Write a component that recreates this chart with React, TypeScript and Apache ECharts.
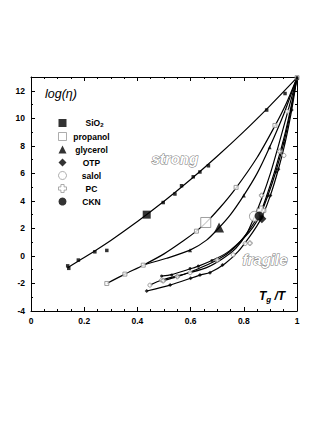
import React, { useEffect, useRef } from "react";
import * as echarts from "echarts";

// x = Tg/T, y = log(eta)
const sio2Curve = [[0.138,-0.85],[0.2,-0.12],[0.3,1.13],[0.4,2.5],[0.5,3.97],[0.6,5.55],[0.7,7.24],[0.8,9.03],[0.9,10.94],[1,12.95]];
const sio2Points = [[0.138,-0.72],[0.142,-0.9],[0.178,-0.3],[0.24,0.3],[0.285,0.4],[0.497,3.88],[0.541,4.5],[0.566,5.1],[0.61,5.75],[0.635,6.1],[0.667,6.55],[0.886,10.6],[0.955,11.8],[1,12.95]];
const sio2Big = [0.435, 3.0];

const propanolCurve = [[0.285,-2.0],[0.353,-1.32],[0.422,-0.67],[0.5,0.15],[0.573,1.1],[0.623,1.82],[0.657,2.4],[0.71,3.5],[0.771,4.95],[0.85,7.15],[0.917,9.45],[0.96,11.1],[1,12.95]];
const propanolPoints = [[0.285,-2.0],[0.353,-1.32],[0.422,-0.67],[0.622,1.8],[0.771,4.98],[0.917,9.48],[1,12.95]];
const propanolBig = [0.657, 2.43];

const glycerolCurve = [[0.425,-0.64],[0.51,-0.17],[0.598,0.42],[0.66,1.15],[0.707,2.05],[0.75,3.0],[0.8,4.4],[0.85,6.0],[0.897,7.9],[0.95,10.3],[1,12.95]];
const glycerolPoints = [[0.598,0.42],[0.8,4.4],[0.897,7.9],[1,12.95]];
const glycerolBig = [0.707, 2.07];

const otpCurve = [[0.435,-2.55],[0.523,-2.12],[0.635,-1.39],[0.673,-1.2],[0.73,-0.55],[0.78,0.35],[0.82,1.35],[0.85,2.2],[0.87,2.9],[0.9,4.4],[0.93,6.3],[0.955,8.2],[0.98,10.6],[1,12.95]];
const otpPoints = [[0.435,-2.55],[0.523,-2.12],[0.6,-1.62],[0.635,-1.39],[0.673,-1.22],[0.72,-0.65],[0.9,4.4],[0.93,6.3],[0.98,10.6]];
const otpBig = [0.868, 2.7];

const salolCurve = [[0.447,-2.12],[0.491,-1.75],[0.6,-1.2],[0.66,-0.85],[0.72,-0.2],[0.77,0.55],[0.81,1.6],[0.84,2.85],[0.87,4.3],[0.9,6.0],[0.93,8.0],[0.96,10.1],[1,12.95]];
const salolPoints = [[0.447,-2.12],[0.491,-1.75],[0.598,-1.22],[0.76,0.08],[0.805,0.9],[0.951,7.3],[0.964,10.5]];
const salolBig = [0.84, 2.88];

const pcCurve = [[0.497,-1.8],[0.55,-1.5],[0.62,-1.0],[0.7,-0.3],[0.76,0.5],[0.81,1.6],[0.84,2.45],[0.865,3.25],[0.89,4.6],[0.92,6.4],[0.95,8.5],[0.975,10.6],[1,12.95]];
const pcPoints = [[0.497,-1.8],[0.55,-1.5],[0.7,-0.3],[0.823,0.93],[0.867,4.4],[0.935,7.6]];
const pcBig = [0.866, 3.3];

const cknCurve = [[0.491,-1.46],[0.529,-1.36],[0.6,-0.93],[0.63,-0.74],[0.7,-0.15],[0.745,0.35],[0.8,1.3],[0.835,2.1],[0.862,3.0],[0.89,4.35],[0.92,6.1],[0.95,8.2],[0.975,10.4],[1,12.95]];
const cknPoints = [[0.491,-1.46],[0.529,-1.38],[0.598,-0.91],[0.629,-0.74],[0.68,-0.33],[0.89,4.35],[0.92,6.1],[0.95,8.2],[1,12.95]];
const cknBig = [0.858, 2.9];

const crossPath = "path://M3,0H7V3H10V7H7V10H3V7H0V3H3Z";

const FONT = '"Liberation Sans", Arial, sans-serif';

function fit(name: string, data: number[][]) {
  return {
    type: "line",
    name: name + " fit",
    data,
    smooth: 0.25,
    showSymbol: false,
    symbol: "none",
    lineStyle: { color: "#000", width: 1.2 },
    z: 2,
    silent: true,
  };
}

function pts(name: string, data: number[][], big: number[], symbol: string, filled: boolean, size: number, bigSize: number) {
  return {
    type: "scatter",
    name,
    symbol,
    symbolSize: size,
    data: [...data.map((d) => ({ value: d })), { value: big, symbolSize: bigSize }],
    itemStyle: filled
      ? { color: "#000" }
      : { color: "#fff", borderColor: "#888", borderWidth: 1 },
    z: 4,
    silent: true,
  };
}

export default function App() {
  const ref = useRef<HTMLDivElement>(null);
  useEffect(() => {
    const chart = echarts.init(ref.current!, null, { renderer: "svg" });
    const tickCommon = {
      axisLine: { show: true, onZero: false, lineStyle: { color: "#000", width: 1 } },
      axisTick: { show: true, inside: true, length: 4, lineStyle: { color: "#000", width: 1 } },
      splitLine: { show: false },
    };
    const labelStyle = { fontSize: 8.5, fontWeight: "bold", color: "#000", fontFamily: FONT };
    const option: any = {
      animation: false,
      backgroundColor: "#fff",
      grid: { left: 31, right: 30, top: 77, bottom: 112 },
      xAxis: [
        {
          type: "value", position: "bottom", min: 0, max: 1, interval: 0.2,
          ...tickCommon,
          minorTick: { show: true, splitNumber: 4, length: 2, lineStyle: { color: "#000" } },
          axisLabel: { ...labelStyle, margin: 5 },
        },
        {
          type: "value", position: "top", min: 0, max: 1, interval: 0.2,
          ...tickCommon,
          minorTick: { show: true, splitNumber: 4, length: 2, lineStyle: { color: "#000" } },
          axisLabel: { show: false },
        },
      ],
      yAxis: [
        {
          type: "value", position: "left", min: -4, max: 13, interval: 2,
          ...tickCommon,
          minorTick: { show: true, splitNumber: 2, length: 2, lineStyle: { color: "#000" } },
          axisLabel: { ...labelStyle, margin: 6, showMaxLabel: false },
        },
        {
          type: "value", position: "right", min: -4, max: 13, interval: 2,
          ...tickCommon,
          minorTick: { show: true, splitNumber: 2, length: 2, lineStyle: { color: "#000" } },
          axisLabel: { show: false },
        },
      ],
      legend: {
        orient: "vertical",
        left: 53,
        top: 113,
        itemWidth: 8,
        itemHeight: 8,
        itemGap: 4,
        selectedMode: false,
        data: [
          { name: "SiO2", icon: "rect", itemStyle: { color: "#000", borderWidth: 0 } },
          { name: "propanol", icon: "rect", itemStyle: { color: "#fff", borderColor: "#999", borderWidth: 1 } },
          { name: "glycerol", icon: "triangle", itemStyle: { color: "#000", borderWidth: 0 } },
          { name: "OTP", icon: "diamond", itemStyle: { color: "#000", borderWidth: 0 } },
          { name: "salol", icon: "circle", itemStyle: { color: "#fff", borderColor: "#999", borderWidth: 1 } },
          { name: "PC", icon: crossPath, itemStyle: { color: "#fff", borderColor: "#999", borderWidth: 1 } },
          { name: "CKN", icon: "circle", itemStyle: { color: "#000", borderWidth: 0 } },
        ],
        formatter: (name: string) => (name === "SiO2" ? "{a|SiO}{s|2}" : "{c|" + name + "}"),
        textStyle: {
          fontSize: 8.5,
          fontWeight: "bold",
          color: "#000",
          fontFamily: FONT,
          rich: {
            c: { width: 40, align: "center", fontSize: 8.5, fontWeight: "bold", fontFamily: FONT, lineHeight: 10, color: "#000" },
            a: { fontSize: 8.5, fontWeight: "bold", fontFamily: FONT, lineHeight: 10, padding: [0, 0, 0, 14], color: "#000" },
            s: { fontSize: 6, fontWeight: "bold", fontFamily: FONT, lineHeight: 10, verticalAlign: "bottom", padding: [4, 0, 0, 0], color: "#000" },
          },
        },
      },
      graphic: [
        { type: "text", left: 45, top: 87, style: { text: "log(η)", fontSize: 12.5, fontStyle: "italic", fontFamily: FONT, fill: "#000" } },
        { type: "text", left: 151, top: 150, style: { text: "strong", fontSize: 15, fontStyle: "italic", fontWeight: "bold", fontFamily: FONT, fill: "#fff", stroke: "#777", lineWidth: 1 } },
        { type: "text", left: 242, top: 251, style: { text: "fragile", fontSize: 15, fontStyle: "italic", fontWeight: "bold", fontFamily: FONT, fill: "#fff", stroke: "#777", lineWidth: 1 } },
        {
          type: "text", left: 259, top: 290,
          style: {
            text: "{t|T}{g|g}{t| /T}",
            rich: {
              t: { fontSize: 12, fontStyle: "italic", fontWeight: "bold", fontFamily: FONT, fill: "#000", lineHeight: 14 },
              g: { fontSize: 8, fontStyle: "italic", fontWeight: "bold", fontFamily: FONT, fill: "#000", lineHeight: 14, verticalAlign: "bottom", padding: [5, 0, 0, 0] },
            },
          },
        },
      ],
      series: [
        fit("SiO2", sio2Curve),
        fit("propanol", propanolCurve),
        fit("glycerol", glycerolCurve),
        fit("OTP", otpCurve),
        fit("salol", salolCurve),
        fit("PC", pcCurve),
        fit("CKN", cknCurve),
        pts("SiO2", sio2Points, sio2Big, "rect", true, 3.5, 8),
        pts("propanol", propanolPoints, propanolBig, "rect", false, 4, 10),
        pts("glycerol", glycerolPoints, glycerolBig, "triangle", true, 4, 10),
        pts("OTP", otpPoints, otpBig, "diamond", true, 4, 9),
        pts("salol", salolPoints, salolBig, "circle", false, 4, 10),
        pts("PC", pcPoints, pcBig, crossPath, false, 4.5, 9),
        pts("CKN", cknPoints, cknBig, "circle", true, 3, 9),
      ],
    };
    chart.setOption(option);
    return () => chart.dispose();
  }, []);
  return <div ref={ref} style={{ position: "fixed", left: 0, top: 0, width: 327, height: 423, background: "#fff" }} />;
}
